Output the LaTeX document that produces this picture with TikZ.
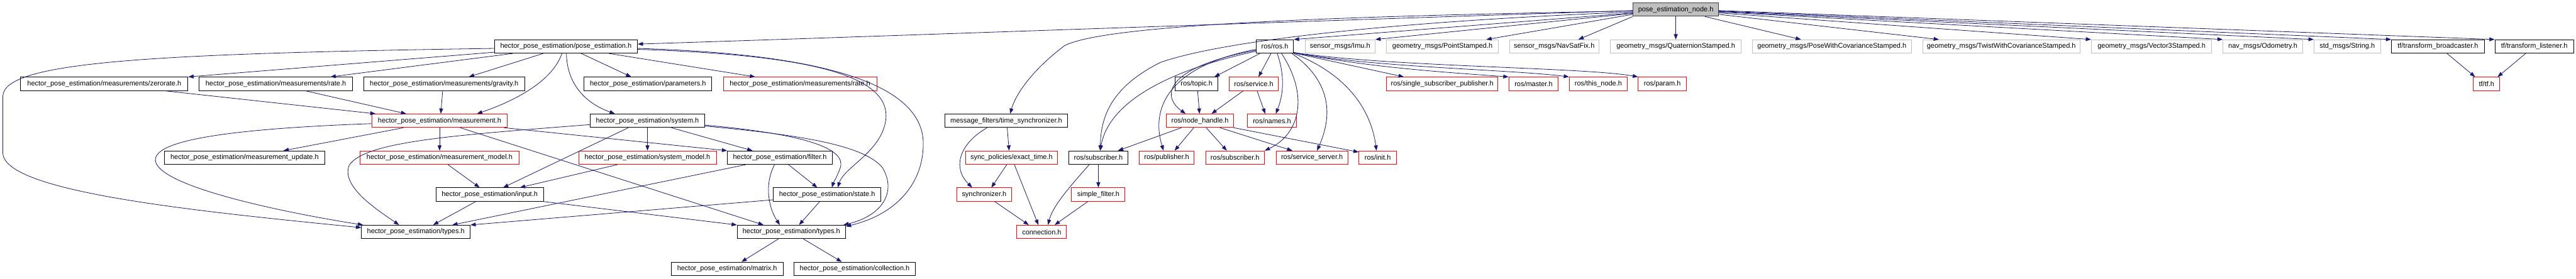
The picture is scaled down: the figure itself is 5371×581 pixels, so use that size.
\documentclass[tikz,border=0pt]{standalone}
\usepackage{fontspec}
\setmainfont{Liberation Sans}
\usetikzlibrary{arrows.meta}
\definecolor{edgec}{HTML}{191970}
\definecolor{grayb}{HTML}{BFBFBF}
\definecolor{rootb}{HTML}{404040}
\begin{document}
\begin{tikzpicture}[x=1pt,y=-1pt,
  box/.style={rectangle, line width=1.2pt, minimum height=28pt, inner sep=0pt, fill=white, font=\fontsize{14.4}{16}\selectfont},
  bk/.style={box, draw=black},
  rd/.style={box, draw=red},
  gr/.style={box, draw=grayb},
  rootbox/.style={box, draw=rootb, fill=grayb},
  e/.style={draw=edgec, line width=1.05pt, -{Triangle[length=11pt,width=8pt]}}]
\useasboundingbox[fill=white] (0,0) rectangle (5371,581);
% row 0
\node[rootbox, minimum width=178.5pt] (root) at (3494,20) {pose\_estimation\_node.h};
% row 1
\node[bk, minimum width=298pt] (pe) at (1180,97) {hector\_pose\_estimation/pose\_estimation.h};
\node[bk, minimum width=78pt] (ros) at (2658,97) {ros/ros.h};
\node[gr, minimum width=146pt] (imu) at (2794,97) {sensor\_msgs/Imu.h};
\node[gr, minimum width=233pt] (pts) at (3007.5,97) {geometry\_msgs/PointStamped.h};
\node[gr, minimum width=187pt] (nav) at (3240.5,97) {sensor\_msgs/NavSatFix.h};
\node[gr, minimum width=272pt] (quat) at (3494,97) {geometry\_msgs/QuaternionStamped.h};
\node[gr, minimum width=331pt] (pwc) at (3819.5,97) {geometry\_msgs/PoseWithCovarianceStamped.h};
\node[gr, minimum width=328pt] (twc) at (4172.7,97) {geometry\_msgs/TwistWithCovarianceStamped.h};
\node[gr, minimum width=251pt] (v3) at (4486,97) {geometry\_msgs/Vector3Stamped.h};
\node[gr, minimum width=166pt] (odom) at (4718,97) {nav\_msgs/Odometry.h};
\node[gr, minimum width=138.5pt] (str) at (4894,97) {std\_msgs/String.h};
\node[bk, minimum width=193.5pt] (tfb) at (5083,97) {tf/transform\_broadcaster.h};
\node[bk, minimum width=164pt] (tfl) at (5284,97) {tf/transform\_listener.h};
% row 2
\node[bk, minimum width=349pt] (zr) at (217.5,175) {hector\_pose\_estimation/measurements/zerorate.h};
\node[bk, minimum width=320pt] (rt) at (575,175) {hector\_pose\_estimation/measurements/rate.h};
\node[bk, minimum width=336pt] (gv) at (926,175) {hector\_pose\_estimation/measurements/gravity.h};
\node[bk, minimum width=266pt] (par) at (1351,175) {hector\_pose\_estimation/parameters.h};
\node[rd, minimum width=320pt] (rtr) at (1668,175) {hector\_pose\_estimation/measurements/rate.h};
\node[bk, minimum width=89.5pt] (topic) at (2495,175) {ros/topic.h};
\node[rd, minimum width=102.5pt] (srv) at (2614,175) {ros/service.h};
\node[rd, minimum width=232pt] (ssp) at (3007,175) {ros/single\_subscriber\_publisher.h};
\node[rd, minimum width=103pt] (master) at (3197.5,175) {ros/master.h};
\node[rd, minimum width=121pt] (thisnode) at (3332.5,175) {ros/this\_node.h};
\node[rd, minimum width=100.5pt] (param) at (3466,175) {ros/param.h};
\node[rd, minimum width=55pt] (tf) at (5184.5,175) {tf/tf.h};
% row 3
\node[rd, minimum width=283pt] (meas) at (916.5,252) {hector\_pose\_estimation/measurement.h};
\node[bk, minimum width=238pt] (sys) at (1350,252) {hector\_pose\_estimation/system.h};
\node[bk, minimum width=254.5pt] (ts) at (2098,252) {message\_filters/time\_synchronizer.h};
\node[rd, minimum width=140.5pt] (nh) at (2502,252) {ros/node\_handle.h};
\node[rd, minimum width=102pt] (names) at (2652,252) {ros/names.h};
% row 4
\node[bk, minimum width=334pt] (mu) at (510,329) {hector\_pose\_estimation/measurement\_update.h};
\node[rd, minimum width=331pt] (mm) at (916.5,329) {hector\_pose\_estimation/measurement\_model.h};
\node[rd, minimum width=287pt] (sm) at (1350,329) {hector\_pose\_estimation/system\_model.h};
\node[bk, minimum width=218.5pt] (filt) at (1626,329) {hector\_pose\_estimation/filter.h};
\node[rd, minimum width=192.5pt] (et) at (2109,329) {sync\_policies/exact\_time.h};
\node[bk, minimum width=123pt] (subb) at (2290,329) {ros/subscriber.h};
\node[rd, minimum width=115pt] (pub) at (2432.5,329) {ros/publisher.h};
\node[rd, minimum width=122.5pt] (subr) at (2575,329) {ros/subscriber.h};
\node[rd, minimum width=149pt] (ss) at (2735.5,329) {ros/service\_server.h};
\node[rd, minimum width=78pt] (init) at (2872.5,329) {ros/init.h};
% row 5
\node[bk, minimum width=224pt] (inp) at (1021,406) {hector\_pose\_estimation/input.h};
\node[bk, minimum width=225pt] (st) at (1724.5,406) {hector\_pose\_estimation/state.h};
\node[rd, minimum width=115pt] (sync) at (2052,406) {synchronizer.h};
\node[rd, minimum width=111.5pt] (sf) at (2290,406) {simple\_filter.h};
% row 6
\node[bk, minimum width=226.5pt] (tyL) at (867,484) {hector\_pose\_estimation/types.h};
\node[bk, minimum width=226pt] (tyR) at (1650,484) {hector\_pose\_estimation/types.h};
\node[rd, minimum width=103.5pt] (conn) at (2172,484) {connection.h};
% row 7
\node[bk, minimum width=233.5pt] (mat) at (1516,561) {hector\_pose\_estimation/matrix.h};
\node[bk, minimum width=252.5pt] (coll) at (1782,561) {hector\_pose\_estimation/collection.h};

% ---- edges from root
\draw[e] ([yshift=-2pt]root.west) .. controls (2400,55) and (1800,77) .. ([yshift=5pt]pe.east);
\draw[e] ([yshift=-3pt]root.west) .. controls (2700,35) and (2300,55) .. (2220,95) .. controls (2160,140) and (2120,190) .. ([xshift=8pt]ts.north);
\draw[e] ([yshift=-5pt]root.west) .. controls (2900,45) and (2550,85) .. (2420,130) .. controls (2320,180) and (2295,240) .. ([xshift=4pt]subb.north);
\draw[e] ([yshift=-7pt]root.west) -- (ros.north east);
\draw[e] ([yshift=-8pt]root.west) -- (imu.north east);
\draw[e] ([yshift=-10pt]root.west) -- ([xshift=91.5pt]pts.north);
\draw[e] (root.south west) -- ([xshift=50.5pt]nav.north);
\draw[e] (root.south) -- (quat.north);
\draw[e] ([xshift=61pt]root.south) -- ([xshift=-64.5pt]pwc.north);
\draw[e] ([yshift=-10pt]root.east) -- ([xshift=-130pt]twc.north);
\draw[e] ([yshift=-7pt]root.east) -- (v3.north west);
\draw[e] ([yshift=-5pt]root.east) -- (odom.north west);
\draw[e] ([yshift=-4pt]root.east) -- (str.north west);
\draw[e] ([yshift=-3pt]root.east) -- (tfb.north west);
\draw[e] ([yshift=-2pt]root.east) -- (tfl.north west);

% ---- ros.h
\draw[e] ([xshift=-31pt]ros.south) -- ([xshift=37pt]topic.north);
\draw[e] ([xshift=-8pt]ros.south) -- ([xshift=10pt]srv.north);
\draw[e] ([xshift=5pt]ros.south) .. controls (2680,160) and (2675,200) .. ([xshift=8pt]names.north);
\draw[e] ([yshift=-8pt]ros.west) .. controls (2430,140) and (2420,200) .. ([xshift=-30pt]nh.north);
\draw[e] ([yshift=-10pt]ros.west) .. controls (2420,150) and (2310,220) .. ([xshift=4pt]subb.north);
\draw[e] ([yshift=-6pt]ros.west) .. controls (2430,140) and (2400,230) .. ([xshift=-6.5pt]pub.north);
\draw[e] ([xshift=14pt]ros.south) .. controls (2730,200) and (2710,280) .. (subr.north east);
\draw[e] ([xshift=-4pt]ros.south east) .. controls (2790,180) and (2770,260) .. ([xshift=10.5pt]ss.north);
\draw[e] (ros.south east) .. controls (2820,160) and (2860,240) .. ([xshift=-2.5pt]init.north);
\draw[e] ([yshift=1pt]ros.south east) -- ([xshift=-80pt]ssp.north);
\draw[e] ([yshift=2pt]ros.south east) .. controls (2850,140) and (3000,150) .. (master.north west);
\draw[e] ([yshift=2pt]ros.south east) .. controls (2850,140) and (3150,145) .. (thisnode.north west);
\draw[e] ([yshift=2pt]ros.south east) .. controls (2900,140) and (3300,140) .. (param.north west);

\draw[e] ([xshift=2pt]topic.south) -- ([xshift=-1pt]nh.north);
\draw[e] ([xshift=-22pt]srv.south) -- ([xshift=24pt]nh.north);
\draw[e] ([xshift=7pt]srv.south) -- ([xshift=-14pt]names.north);

\draw[e] ([xshift=-39pt]nh.south) -- ([xshift=41pt]subb.north);
\draw[e] ([xshift=-13pt]nh.south) -- ([xshift=16.5pt]pub.north);
\draw[e] ([xshift=13pt]nh.south) -- ([xshift=-17pt]subr.north);
\draw[e] ([xshift=42pt]nh.south) -- ([xshift=-41pt]ss.north);
\draw[e] (nh.south east) -- ([yshift=-3pt]init.north west);

% ---- message filters
\draw[e] ([xshift=-40pt]ts.south) .. controls (2000,300) and (1985,350) .. ([xshift=-25pt]sync.north);
\draw[e] ([xshift=2pt]ts.south) -- ([xshift=-5pt]et.north);
\draw[e] ([xshift=-10pt]et.south) -- ([xshift=15pt]sync.north);
\draw[e] ([xshift=6pt]et.south) -- ([xshift=-7pt]conn.north);
\draw[e] ([xshift=22pt]sync.south) -- ([xshift=-27pt]conn.north);
\draw[e] ([xshift=-19pt]subb.south) .. controls (2230,390) and (2195,430) .. ([xshift=13pt]conn.north);
\draw[e] (subb.south) -- (sf.north);
\draw[e] ([xshift=-22pt]sf.south) -- ([xshift=27pt]conn.north);

% ---- tf
\draw[e] ([xshift=19pt]tfb.south) -- ([xshift=-24pt]tf.north);
\draw[e] ([xshift=-18pt]tfl.south) -- ([xshift=23pt]tf.north);

% ---- pose_estimation.h
\draw[e] ([yshift=-12pt]pe.west) -- (zr.north east);
\draw[e] ([xshift=-111pt]pe.south) -- ([xshift=114pt]rt.north);
\draw[e] ([xshift=-47.5pt]pe.south) -- ([xshift=51.6pt]gv.north);
\draw[e] ([xshift=-8.4pt]pe.south) .. controls (1150,175) and (1060,215) .. ([xshift=78pt]meas.north);
\draw[e] ([xshift=1pt]pe.south) .. controls (1182,175) and (1220,215) .. ([xshift=-68pt]sys.north);
\draw[e] ([xshift=32pt]pe.south) -- ([xshift=-35pt]par.north);
\draw[e] ([xshift=90pt]pe.south) -- ([xshift=-93.5pt]rtr.north);
\draw[e] ([yshift=-4pt]pe.west) .. controls (300,112) and (10,130) .. (6,200) -- (6,320) .. controls (10,400) and (400,440) .. ([yshift=9pt]tyL.west);
\draw[e] ([yshift=-6pt]pe.east) .. controls (1700,115) and (1870,160) .. (1845,260) .. controls (1830,320) and (1760,350) .. ([xshift=22pt]st.north);
\draw[e] ([yshift=-4pt]pe.east) .. controls (1700,112) and (1925,170) .. (1925,300) .. controls (1925,390) and (1860,450) .. ([yshift=-3pt]tyR.north east);

% ---- measurements
\draw[e] ([xshift=126.5pt]zr.south) -- ([xshift=-133.5pt]meas.north);
\draw[e] ([xshift=62pt]rt.south) -- ([xshift=-69.5pt]meas.north);
\draw[e] ([xshift=-3pt]gv.south) -- ([xshift=2.5pt]meas.north);

% ---- measurement.h
\draw[e] ([yshift=-6pt]meas.west) .. controls (500,268) and (320,290) .. (324,335) .. controls (330,390) and (600,445) .. ([xshift=4pt]tyL.north west);
\draw[e] ([xshift=-75.5pt]meas.south) -- ([xshift=81pt]mu.north);
\draw[e] (meas.south) -- (mm.north);
\draw[e] ([xshift=43.5pt]meas.south) -- ([xshift=-58pt]tyR.north);
\draw[e] ([xshift=135pt]meas.south) -- (filt.north west);

% ---- system.h
\draw[e] ([yshift=-8pt]sys.west) .. controls (950,282) and (760,295) .. (728,345) .. controls (710,390) and (790,440) .. ([xshift=-35pt]tyL.north);
\draw[e] ([xshift=-40pt]sys.south) -- ([xshift=28pt]inp.north);
\draw[e] (sys.south) -- (sm.north);
\draw[e] ([xshift=50pt]sys.south) -- ([xshift=-57pt]filt.north);
\draw[e] ([yshift=-9pt]sys.east) .. controls (1680,280) and (1765,310) .. (1752,350) .. controls (1745,370) and (1738,380) .. ([xshift=10pt]st.north);
\draw[e] ([yshift=-11pt]sys.east) .. controls (1650,280) and (1800,300) .. (1840,350) .. controls (1870,400) and (1840,450) .. ([xshift=-5pt]tyR.north east);

% ---- models, filter, input, state
\draw[e] ([xshift=17.5pt]mm.south) -- ([xshift=-21pt]inp.north);
\draw[e] ([xshift=-63pt]sm.south) -- ([xshift=63pt]inp.north);
\draw[e] ([xshift=-71pt]filt.south) -- ([xshift=76pt]tyL.north);
\draw[e] ([xshift=-11pt]filt.south) .. controls (1595,380) and (1600,430) .. ([xshift=-24pt]tyR.north);
\draw[e] ([xshift=18pt]filt.south) -- ([xshift=-20.5pt]st.north);
\draw[e] ([xshift=-29pt]inp.south) -- ([xshift=36pt]tyL.north);
\draw[e] (inp.south east) -- (tyR.north west);
\draw[e] ([yshift=-11pt]st.west) -- (tyL.north east);
\draw[e] ([xshift=-15.5pt]st.south) -- ([xshift=16pt]tyR.north);
\draw[e] ([xshift=-27pt]tyR.south) -- ([xshift=30pt]mat.north);
\draw[e] ([xshift=25pt]tyR.south) -- ([xshift=-27pt]coll.north);
\end{tikzpicture}
\end{document}
